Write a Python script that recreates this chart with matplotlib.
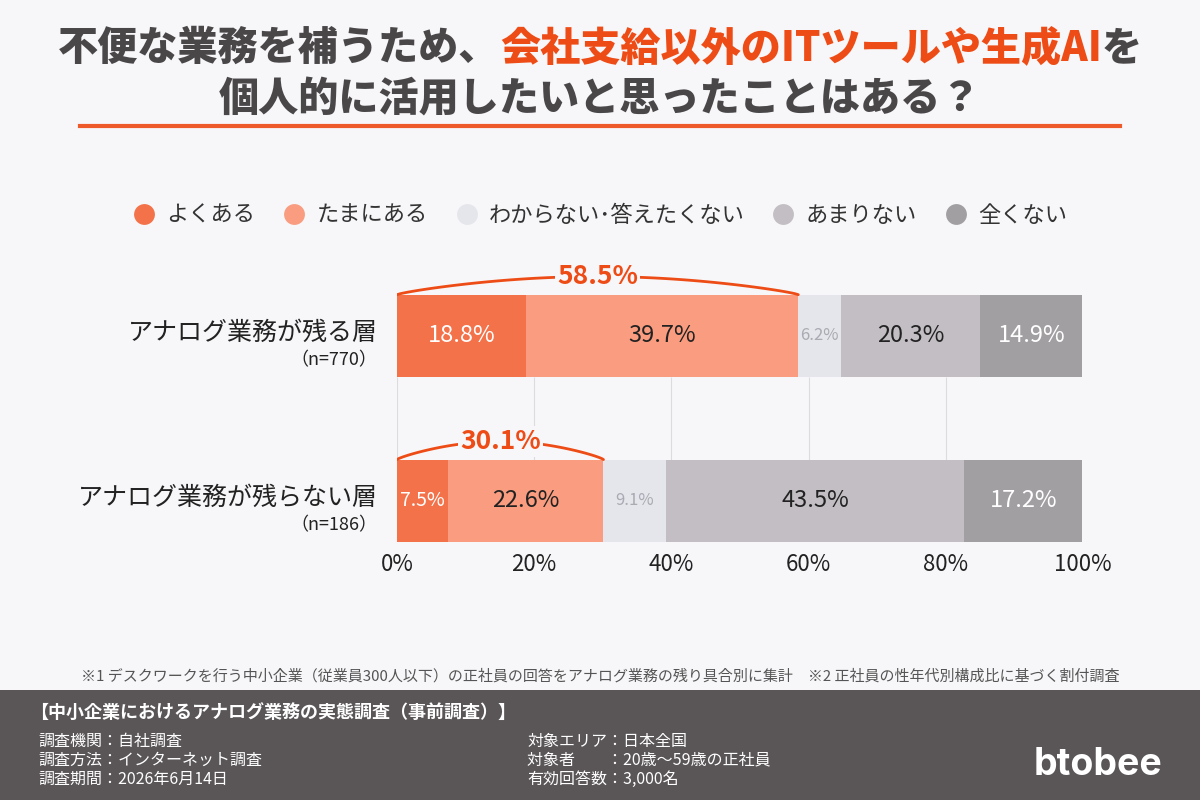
import matplotlib
matplotlib.use('Agg')
import matplotlib.pyplot as plt
import numpy as np
from matplotlib.lines import Line2D
from matplotlib.patches import Rectangle

plt.rcParams['font.family'] = ['Noto Sans CJK JP', 'DejaVu Sans']

# データ
categories = ['アナログ業務が残る層', 'アナログ業務が残らない層']
sample_sizes = ['（n=770）', '（n=186）']
answers = ['よくある', 'たまにある', 'わからない･答えたくない', 'あまりない', '全くない']
remain = [18.8, 39.7, 6.2, 20.3, 14.9]
not_remain = [7.5, 22.6, 9.1, 43.5, 17.2]
positive_total = [58.5, 30.1]
xticks = [0, 20, 40, 60, 80, 100]

colors = ['#F4724A', '#F99C7F', '#E5E6EB', '#C2BEC3', '#A29FA3']
text_colors = ['white', '#222222', '#A9AAB2', '#222222', 'white']
bg = '#F7F6F8'
orange = '#EE4C16'
dark = '#4A4749'

fig = plt.figure(figsize=(12, 8), dpi=100, facecolor=bg)
ax = fig.add_axes([397 / 1200, 1 - 542 / 800, 686 / 1200, 292 / 800])
ax.set_facecolor(bg)

series = [remain, not_remain]
ypos = [1, 0]
h = 0.5

# グリッド（バーの間だけ）
ax.vlines(xticks[:-1], 0.25, 0.75, color='#DCDCDE', lw=0.8, zorder=0)

for vals, y in zip(series, ypos):
    left = 0
    for i, v in enumerate(vals):
        ax.barh(y, v, left=left, height=h, color=colors[i], edgecolor='none', zorder=2)
        if v < 10:
            fs = 14 if i == 0 else 12
        else:
            fs = 17
        ax.text(left + v / 2, y, f'{v}%', ha='center', va='center',
                color=text_colors[i], fontsize=fs, zorder=3)
        left += v

# 「ある」合計の弧
for tot, y in zip(positive_total, ypos):
    top = y + h / 2
    xs = np.linspace(0, tot, 120)
    ys = top + 0.11 * np.sin(np.pi * xs / tot) ** 0.8
    ax.plot(xs, ys, color=orange, lw=2, zorder=3, solid_capstyle='round')
    ax.text(tot / 2, top + 0.11, f'{tot}%', ha='center', va='center',
            color=orange, fontsize=19, fontweight='bold', zorder=4,
            bbox=dict(boxstyle='square,pad=0.08', facecolor=bg, edgecolor='none'))

# カテゴリラベル
for cat, n, y in zip(categories, sample_sizes, ypos):
    ax.text(-2.8, y + 0.02, cat, ha='right', va='center', fontsize=18, color='#222222')
    ax.text(-2.8, y - 0.15, n, ha='right', va='center', fontsize=13, color='#222222')

ax.set_xlim(0, 100)
ax.set_ylim(-0.25, 1.521)
ax.set_xticks(xticks)
ax.set_xticklabels([f'{t}%' for t in xticks], fontsize=16, color='#222222')
ax.tick_params(axis='x', length=0, pad=8)
ax.set_yticks([])
for s in ax.spines.values():
    s.set_visible(False)

# 凡例
handles = [Line2D([], [], marker='o', ls='none', markersize=15,
                  markerfacecolor=c, markeredgecolor='none') for c in colors]
fig.legend(handles, answers, loc='center', bbox_to_anchor=(0.5, 1 - 215 / 800),
           ncol=5, frameon=False, fontsize=16, handlelength=1.0, handletextpad=0.5,
           columnspacing=1.25, labelcolor='#333333')

# タイトル（色分け）
renderer = fig.canvas.get_renderer()
parts = [('不便な業務を補うため、', dark), ('会社支給以外のITツールや生成AI', orange), ('を', dark)]
texts = []
for s, c in parts:
    t = fig.text(0, 1 - 48 / 800, s, color=c, fontsize=28.9, fontweight='heavy',
                 ha='left', va='center')
    texts.append(t)
widths = [t.get_window_extent(renderer).width for t in texts]
x = (1200 - sum(widths)) / 2
for t, w in zip(texts, widths):
    t.set_x(x / 1200)
    x += w
fig.text(0.5, 1 - 100 / 800, '個人的に活用したいと思ったことはある？', color=dark,
         fontsize=28.9, fontweight='heavy', ha='center', va='center')
fig.add_artist(Line2D([80 / 1200, 1120 / 1200], [1 - 126 / 800] * 2,
                      color='#EE5A2A', lw=3, transform=fig.transFigure))

# 注釈
fig.text(0.5, 1 - 676 / 800,
         '※1 デスクワークを行う中小企業（従業員300人以下）の正社員の回答をアナログ業務の残り具合別に集計　'
         '※2 正社員の性年代別構成比に基づく割付調査',
         ha='center', va='center', fontsize=10.8, color='#555555')

# フッター
fig.add_artist(Rectangle((0, 0), 1, 110 / 800, transform=fig.transFigure,
                         facecolor='#5A5658', edgecolor='none', zorder=0))
fig.text(30 / 1200, 1 - 712 / 800, '【中小企業におけるアナログ業務の実態調査（事前調査）】',
         color='white', fontsize=13, fontweight='bold', va='center')
left_lines = ['調査機関：自社調査', '調査方法：インターネット調査', '調査期間：2026年6月14日']
right_lines = ['対象エリア：日本全国', '対象者　　：20歳～59歳の正社員', '有効回答数：3,000名']
for i, (l, r) in enumerate(zip(left_lines, right_lines)):
    yy = 1 - (741 + i * 19) / 800
    fig.text(38 / 1200, yy, l, color='white', fontsize=11.5, va='center')
    fig.text(527 / 1200, yy, r, color='white', fontsize=11.5, va='center')
fig.text(1098 / 1200, 1 - 765 / 800, 'btobee', color='white', fontsize=27,
         fontweight='bold', ha='center', va='center', family='Inter')

fig.savefig('out.png', dpi=100, facecolor=bg)
